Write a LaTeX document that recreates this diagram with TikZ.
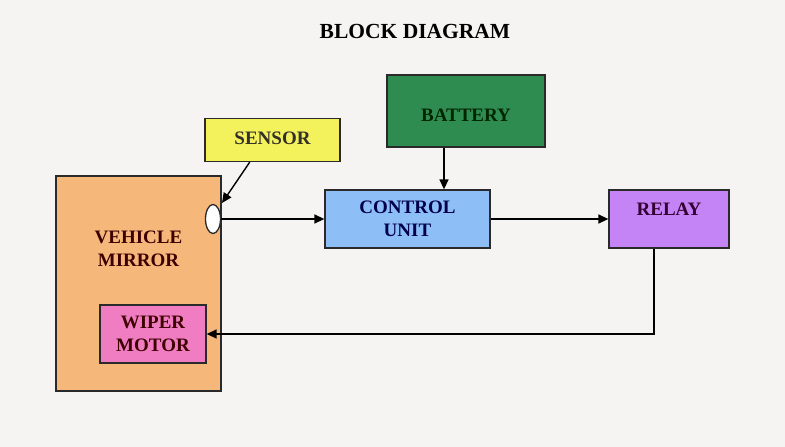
\documentclass[tikz,border=0pt]{standalone}
\usepackage{fontspec}
\setmainfont{Liberation Serif}
\usetikzlibrary{arrows.meta,shapes.geometric,calc}
\definecolor{bg}{HTML}{F5F4F3}
\definecolor{sensorc}{HTML}{F4F25C}
\definecolor{mirrorc}{HTML}{F6B87A}
\definecolor{batteryc}{HTML}{2F8C50}
\definecolor{controlc}{HTML}{8EBEF6}
\definecolor{relayc}{HTML}{C484F6}
\definecolor{wiperc}{HTML}{F07DC2}
\definecolor{edgec}{HTML}{2A2A2A}
\tikzset{
  blk/.style={draw=edgec, line width=1.3pt, inner sep=0pt, rectangle},
  txt/.style={font=\fontsize{19}{22.5}\selectfont\bfseries, align=center, inner sep=0pt},
  arr/.style={draw=black, line width=1.4pt, -{Triangle[length=10pt,width=9pt]}},
  ln/.style={draw=black, line width=1.4pt}
}
\begin{document}
\begin{tikzpicture}[x=1pt,y=-1pt]
\fill[bg] (0,0) rectangle (785,447);
\useasboundingbox (0,0) rectangle (785,447);
\node[txt, font=\fontsize{21.5}{24}\selectfont\bfseries, text=black] (title) at (415,31) {BLOCK DIAGRAM};
% boxes
\node[blk, fill=sensorc, minimum width=135pt, minimum height=43pt] (sensor) at (272.5,140) {};
\node[txt, text=black!85!olive] (sensort) at (272.5,138) {SENSOR};
\node[blk, fill=mirrorc, minimum width=165pt, minimum height=215pt] (mirror) at (138.5,283.5) {};
\node[txt, text=black!70!red!80!black] (mirrort) at (138.5,249) {VEHICLE\\[1pt]MIRROR};
\node[blk, fill=wiperc, minimum width=106pt, minimum height=58pt] (wiper) at (153,334) {};
\node[txt, text=black!65!red!70!black] (wipert) at (153,334) {WIPER\\[1pt]MOTOR};
\node[draw=edgec, line width=1.3pt, fill=white, ellipse, minimum width=15pt, minimum height=29pt, inner sep=0pt] (ell) at (213,219) {};
\node[blk, fill=batteryc, minimum width=158pt, minimum height=72pt] (battery) at (466,111) {};
\node[txt, text=black!85!green] (batteryt) at (466,115) {BATTERY};
\node[blk, fill=controlc, minimum width=165pt, minimum height=58pt] (control) at (407.5,219) {};
\node[txt, text=blue!30!black] (controlt) at (407.5,219) {CONTROL\\[1pt]UNIT};
\node[blk, fill=relayc, minimum width=120pt, minimum height=58pt] (relay) at (669,219) {};
\node[txt, text=violet!40!black] (relayt) at (669,209) {RELAY};
% connectors
\coordinate (sstart) at ($(sensor.south west)!0.333!(sensor.south east)$);
\coordinate (send) at (222,203);
\draw[arr] (sstart) -- (send);
\draw[arr] (ell.east) -- (control.west);
\draw[arr] (battery.south -| 444,0) -- (control.north -| 444,0);
\draw[arr] (control.east) -- (relay.west);
\coordinate (rdown) at (654,334);
\draw[arr] (relay.south -| rdown) -- (rdown) -- (wiper.east);
\end{tikzpicture}
\end{document}
